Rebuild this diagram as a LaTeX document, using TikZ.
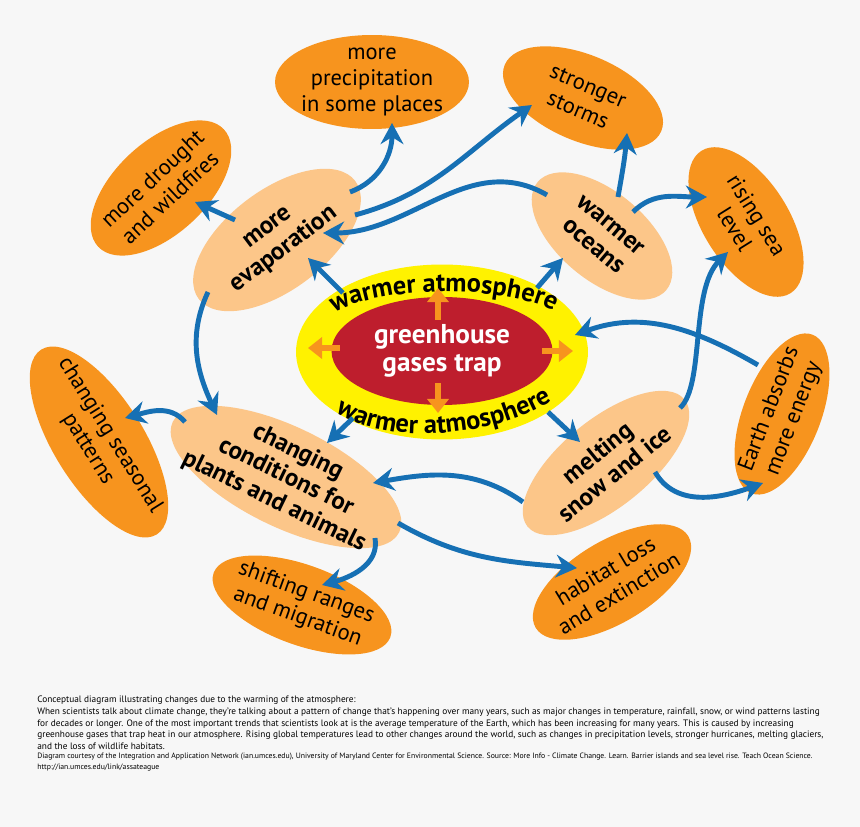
\documentclass[tikz,border=0pt]{standalone}
\usepackage{fontspec}
\setmainfont{PT Sans}
\usepackage{tikz}
\usetikzlibrary{arrows,arrows.meta,shapes,positioning,calc,decorations.text}
\usepackage{xcolor}
\definecolor{ianorange}{RGB}{247,148,30}
\definecolor{ianpeach}{RGB}{252,198,137}
\definecolor{ianyellow}{RGB}{255,242,0}
\definecolor{ianred}{RGB}{190,30,45}
\definecolor{ianblue}{RGB}{22,112,180}
\definecolor{iangray}{RGB}{247,247,247}
\newcommand\effectfont{\fontsize{12.8}{14.8}\selectfont}
\newcommand\causefont{\fontsize{14.2}{15.5}\selectfont\bfseries}
\newcommand\corefont{\fontsize{15.5}{16}\selectfont\bfseries}
\newcommand\atmofont{\fontsize{15}{17}\selectfont\bfseries}
\newcommand\notefont{\fontsize{5.3}{6.6}\selectfont}
\newcommand\creditfont{\fontsize{4.4}{6.2}\selectfont}
\tikzstyle{link} = [line width=2.8pt,-{Stealth[length=12pt,width=13pt,inset=4pt]},color=ianblue]
\tikzstyle{burst} = [line width=3.4pt,-{Triangle[length=8pt,width=12pt]},color=ianorange]

\begin{document}
\begin{tikzpicture}[
    x=0.02cm, y=0.02cm,
    effect/.style={ellipse, fill=ianorange, inner sep=-10pt, align=center, font=\effectfont},
    cause/.style={ellipse, fill=ianpeach, inner sep=-12pt, align=center, font=\causefont}
]
\useasboundingbox (0,0) rectangle (860,-827);
\fill[iangray] (0,0) rectangle (860,-827);

% centre: greenhouse gases and the warmer atmosphere round them
\node[ellipse, fill=ianyellow, minimum width=5.84cm, minimum height=3.5cm] (atmo) at (442,-352) {};
\node[ellipse, fill=ianred, minimum width=4.42cm, minimum height=2.16cm, inner sep=0pt,
      align=center, font=\corefont, text=white] (core) at (442,-351) {greenhouse\\gases trap};
\path[decorate, decoration={text along path, text align=center, text={|\atmofont|warmer atmosphere}}]
    (318,-324) .. controls (360,-281) and (528,-281) .. (570,-322);
\path[decorate, decoration={text along path, text align=center, text={|\atmofont|warmer atmosphere}}]
    (318,-396) .. controls (360,-450) and (500,-445) .. (572,-387);
\draw[burst] ($(core)+(-4,31)$) -- ($(core)+(-4,63)$);
\draw[burst] ($(core)+(-4,-32)$) -- ($(core)+(-4,-62)$);
\draw[burst] ($(core)+(-102,3)$) -- ($(core)+(-134,3)$);
\draw[burst] ($(core)+(100,0)$) -- ($(core)+(131,0)$);

% first changes
\node[cause, rotate=37, minimum width=3.92cm, minimum height=2.0cm] (evap) at (277,-240) {more\\evaporation};
\node[cause, rotate=-40, minimum width=3.36cm, minimum height=1.76cm] (oceans) at (602,-236) {warmer\\oceans};
\node[cause, rotate=-26, minimum width=5.04cm, minimum height=2.0cm] (cond) at (286,-477) {changing\\conditions for\\plants and animals};
\node[cause, rotate=39, minimum width=4.04cm, minimum height=1.76cm] (melt) at (606,-463) {melting\\snow and ice};

% consequences
\node[effect, minimum width=3.88cm, minimum height=1.88cm] (precip) at (372,-82) {more\\precipitation\\in some places};
\node[effect, rotate=-23, minimum width=3.4cm, minimum height=1.72cm] (storms) at (583,-98) {stronger\\storms};
\node[effect, rotate=43, minimum width=3.44cm, minimum height=1.84cm] (drought) at (161,-188) {more drought\\and wildfires};
\node[effect, rotate=-58, minimum width=3.36cm, minimum height=1.72cm] (sealevel) at (746,-222) {rising sea\\level};
\node[effect, rotate=-58, minimum width=4.36cm, minimum height=1.8cm] (seasonal) at (99,-442) {changing seasonal\\patterns};
\node[effect, rotate=69, minimum width=3.4cm, minimum height=1.56cm] (earth) at (782,-414) {Earth absorbs\\more energy};
\node[effect, rotate=-20, minimum width=3.76cm, minimum height=1.6cm] (shifting) at (302,-605) {shifting ranges\\and migration};
\node[effect, rotate=31, minimum width=3.56cm, minimum height=1.64cm] (habitat) at (612,-582) {habitat loss\\and extinction};

% connectors
\draw[link] ($(atmo)+(-99,59)$) -- ($(evap)+(31,-18)$);
\draw[link] ($(atmo)+(95,64)$) -- ($(oceans)+(-39,-22)$);
\draw[link] ($(atmo)+(-89,-66)$) -- ($(cond)+(41,34)$);
\draw[link] ($(atmo)+(106,-60)$) -- ($(melt)+(-26,21)$);
\draw[link] ($(evap)+(73,48)$) to[out=20,in=-90] ($(precip)+(20,-41)$);
\draw[link] ($(evap)+(-42,20)$) -- ($(drought)+(34,-14)$);
\draw[link] ($(evap)+(78,25)$) to[out=15,in=215] ($(storms)+(-51,-7)$);
\draw[link] ($(oceans)+(-55,41)$) to[out=150,in=0] ($(evap)+(46,7)$);
\draw[link] ($(oceans)+(16,39)$) to[out=80,in=-95] ($(storms)+(44,-35)$);
\draw[link] ($(oceans)+(31,24)$) to[out=45,in=180] ($(sealevel)+(-39,25)$);
\draw[link] ($(melt)+(74,55)$) .. controls +(25,23) and +(-38,-38) .. ($(sealevel)+(-18,-30)$);
\draw[link] ($(earth)+(-24,49)$) to[out=150,in=20] ($(atmo)+(133,17)$);
\draw[link] ($(melt)+(49,-9)$) to[out=-60,in=200] ($(earth)+(-19,-69)$);
\draw[link] ($(melt)+(-83,-39)$) to[out=145,in=10] ($(cond)+(87,-6)$);
\draw[link] ($(evap)+(-69,-52)$) to[out=-115,in=115] ($(cond)+(-69,62)$);
\draw[link] ($(cond)+(-101,55)$) to[out=130,in=15] ($(seasonal)+(26,24)$);
\draw[link] ($(cond)+(89,-61)$) to[out=-80,in=15] ($(shifting)+(20,20)$);
\draw[link] ($(cond)+(112,-46)$) to[out=-30,in=175] ($(habitat)+(-35,14)$);

% caption
\node[anchor=north west, inner sep=0pt, align=left, font=\notefont] (caption) at (37,-696)
  {Conceptual diagram illustrating changes due to the warming of the atmosphere:\\
   When scientists talk about climate change, they're talking about a pattern of change that's happening over many years, such as major changes in temperature, rainfall, snow, or wind patterns lasting\\
   for decades or longer. One of the most important trends that scientists look at is the average temperature of the Earth, which has been increasing for many years. This is caused by increasing\\
   greenhouse gases that trap heat in our atmosphere. Rising global temperatures lead to other changes around the world, such as changes in precipitation levels, stronger hurricanes, melting glaciers,\\
   and the loss of wildlife habitats.};
\node[anchor=north west, inner sep=0pt, align=left, font=\creditfont] (credits) at ([yshift=-1.8pt]caption.south west)
  {Diagram courtesy of the Integration and Application Network (ian.umces.edu), University of Maryland Center for Environmental Science. Source: More Info - Climate Change. Learn. Barrier islands and sea level rise. Teach Ocean Science.\\
   http://ian.umces.edu/link/assateague};
\end{tikzpicture}
\end{document}
